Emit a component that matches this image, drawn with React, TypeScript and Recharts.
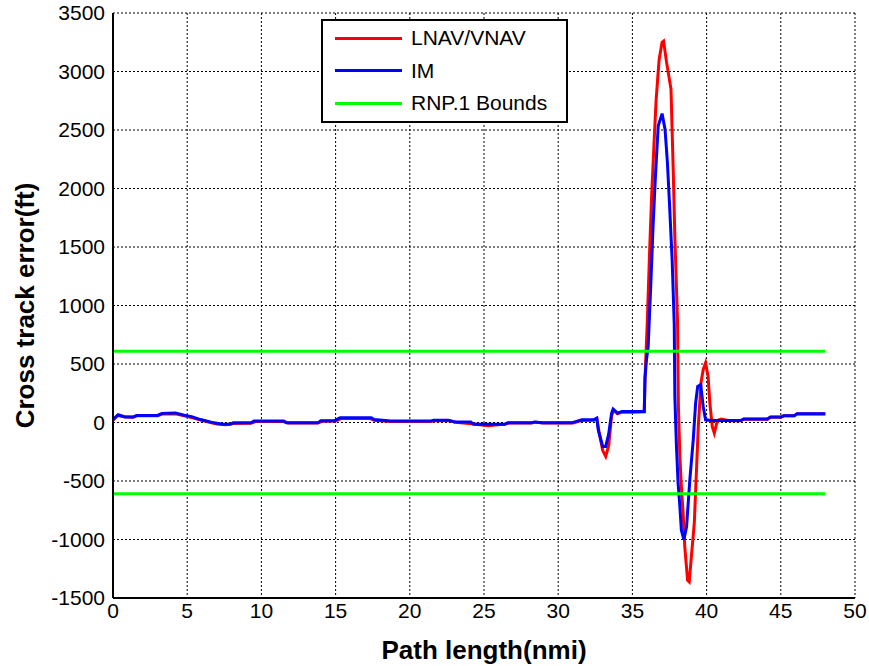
import React from 'react';
import { LineChart, Line, XAxis, YAxis, CartesianGrid, Legend } from 'recharts';

const FONT = '"Liberation Sans", Arial, Helvetica, sans-serif';

const xTicks = [0, 5, 10, 15, 20, 25, 30, 35, 40, 45, 50];
const yTicks = [-1500, -1000, -500, 0, 500, 1000, 1500, 2000, 2500, 3000, 3500];

// RNP 0.1 nmi bounds (ft) and their extent along the path (nmi)
const rnpBound = 608;
const boundExtent = [0, 48];

// [path length (nmi), cross track error (ft)]
const lnavTrace: [number, number][] = [
  [0, 20], [0.3, 60], [0.8, 50], [1.3, 45], [1.6, 58], [3.0, 58], [3.3, 72], [4.2, 75], [4.8, 58],
  [5.3, 42], [5.9, 22], [6.5, 2], [7.0, -12], [7.6, -20], [8.1, -8], [9.3, -6], [9.6, 8], [11.5, 8],
  [11.8, -5], [13.8, -5], [14.1, 10], [15.0, 12], [15.4, 35], [17.3, 35], [17.6, 20], [18.7, 8],
  [21.4, 8], [21.7, 15], [22.7, 15], [23.1, 2], [24.3, -12], [25.3, -28], [26.4, -14], [26.7, -5],
  [28.2, -5], [28.5, 3], [29.0, -5], [31.0, -5], [31.6, 18], [32.4, 20], [32.6, 33], [32.75, -80],
  [33.0, -240], [33.2, -290], [33.4, -200], [33.6, 60], [33.75, 105], [34.0, 75], [34.3, 88],
  [35.0, 88], [35.8, 92], [35.85, 380], [36.0, 850], [36.17, 1500], [36.3, 1950], [36.47, 2420],
  [36.6, 2760], [36.8, 3100], [37.0, 3250], [37.1, 3260], [37.3, 3080], [37.6, 2850], [37.75, 2160],
  [37.86, 1590], [38.04, 870], [38.1, 137], [38.2, -291], [38.3, -549], [38.42, -777], [38.53, -1063],
  [38.72, -1349], [38.83, -1363], [38.99, -1120], [39.17, -863], [39.3, -463], [39.44, -34],
  [39.62, 337], [39.77, 451], [39.93, 509], [40.1, 394], [40.22, 166], [40.38, -34], [40.52, -91],
  [40.68, -6], [40.83, 23], [41.0, 30], [41.5, 15], [42.3, 15], [42.5, 28], [44.1, 28], [44.3, 45],
  [45.0, 45], [45.2, 57], [45.9, 57], [46.1, 72], [48.0, 72],
];

const imTrace: [number, number][] = [
  [0, 25], [0.35, 66], [0.8, 48], [1.4, 48], [1.6, 60], [3.0, 60], [3.3, 78], [4.2, 82], [4.8, 62],
  [5.3, 50], [5.9, 25], [6.8, -3], [7.4, -15], [7.9, -15], [8.1, -3], [9.3, -3], [9.5, 12], [11.5, 12],
  [11.7, -3], [13.8, -3], [14.0, 15], [14.9, 15], [15.3, 40], [17.4, 40], [17.6, 25], [18.7, 12],
  [21.4, 12], [21.6, 20], [22.6, 20], [23.0, 5], [24.1, 5], [24.3, -15], [26.4, -15], [26.6, -3],
  [28.2, -3], [28.4, 5], [28.9, -3], [30.9, -3], [31.6, 23], [32.4, 23], [32.6, 37], [32.7, -63],
  [33.0, -205], [33.2, -205], [33.4, -100], [33.6, 80], [33.7, 115], [34.0, 80], [34.3, 95],
  [35.8, 95], [35.85, 380], [35.95, 540], [36.06, 640], [36.24, 1185], [36.4, 1700], [36.55, 2100],
  [36.74, 2535], [37.0, 2640], [37.2, 2505], [37.36, 2220], [37.5, 1870], [37.68, 1385], [37.82, 840],
  [37.86, 223], [37.97, -206], [38.08, -520], [38.2, -720], [38.3, -920], [38.47, -1000],
  [38.65, -891], [38.87, -491], [39.1, -149], [39.26, 166], [39.4, 309], [39.6, 323], [39.77, 137],
  [39.93, 23], [40.3, 17], [42.3, 17], [42.5, 29], [44.1, 29], [44.3, 46], [45.0, 46], [45.2, 57],
  [45.9, 57], [46.1, 74], [48.0, 74],
];

const legendItems = [
  { label: 'LNAV/VNAV', color: '#ff0000' },
  { label: 'IM', color: '#0000ff' },
  { label: 'RNP.1 Bounds', color: '#00ff00' },
];

const toRows = (t: [number, number][]) => t.map(([x, y]) => ({ x, y }));
const lnavRows = toRows(lnavTrace);
const imRows = toRows(imTrace);
const upperRows = boundExtent.map((x) => ({ x, y: rnpBound }));
const lowerRows = boundExtent.map((x) => ({ x, y: -rnpBound }));

const LegendBox = () => (
  <div
    style={{
      position: 'relative',
      width: 247,
      height: 104,
      boxSizing: 'border-box',
      border: '2px solid #000',
      background: '#fff',
      fontFamily: FONT,
      fontSize: 21,
      color: '#000',
    }}
  >
    {legendItems.map((it, i) => (
      <div
        key={it.label}
        style={{
          position: 'absolute',
          left: 12,
          top: 2 + i * 32.5,
          height: 30,
          display: 'flex',
          alignItems: 'center',
          whiteSpace: 'nowrap',
        }}
      >
        <span style={{ display: 'inline-block', width: 67, height: 3, background: it.color }} />
        <span style={{ marginLeft: 9, lineHeight: '30px' }}>{it.label}</span>
      </div>
    ))}
  </div>
);

const axisLine = { stroke: '#000', strokeWidth: 2 };
const tickText = { fill: '#000', fontSize: 21, fontFamily: FONT };

export default function App() {
  return (
    <div style={{ width: 869, height: 666, background: '#fff' }}>
      <style>{`body{margin:0;background:#fff}`}</style>
      <LineChart width={869} height={666} margin={{ top: 13, right: 14, bottom: 0, left: 0 }}>
        <CartesianGrid xAxisId="b" yAxisId="l" stroke="#000" strokeDasharray="2 2" strokeWidth={1} />
        <XAxis
          xAxisId="b"
          type="number"
          dataKey="x"
          domain={[0, 50]}
          ticks={xTicks}
          interval={0}
          allowDataOverflow
          height={68}
          tickLine={false}
          tickSize={0}
          tickMargin={5}
          axisLine={axisLine}
          tick={tickText}
          label={{
            value: 'Path length(nmi)',
            position: 'insideBottom',
            offset: 7,
            style: { fontWeight: 'bold', fontSize: 26, fill: '#000', fontFamily: FONT },
          }}
        />
        <XAxis
          xAxisId="bm"
          orientation="bottom"
          mirror
          type="number"
          dataKey="x"
          domain={[0, 50]}
          ticks={xTicks}
          interval={0}
          height={0}
          tick={false}
          tickSize={6}
          tickLine={{ stroke: '#000', strokeWidth: 1 }}
          axisLine={false}
        />
        <XAxis
          xAxisId="t"
          orientation="top"
          mirror
          type="number"
          dataKey="x"
          domain={[0, 50]}
          ticks={xTicks}
          interval={0}
          height={0}
          tick={false}
          tickSize={6}
          tickLine={{ stroke: '#000', strokeWidth: 1 }}
          axisLine={axisLine}
        />
        <YAxis
          yAxisId="l"
          type="number"
          domain={[-1500, 3500]}
          ticks={yTicks}
          interval={0}
          allowDataOverflow
          width={113}
          tickLine={false}
          tickSize={0}
          tickMargin={8}
          axisLine={axisLine}
          tick={tickText}
          label={{
            value: 'Cross track error(ft)',
            angle: -90,
            position: 'insideLeft',
            offset: 25,
            style: { textAnchor: 'middle', fontWeight: 'bold', fontSize: 26, fill: '#000', fontFamily: FONT },
          }}
        />
        <YAxis
          yAxisId="lm"
          orientation="left"
          mirror
          type="number"
          domain={[-1500, 3500]}
          ticks={yTicks}
          interval={0}
          width={0}
          tick={false}
          tickSize={6}
          tickLine={{ stroke: '#000', strokeWidth: 1 }}
          axisLine={false}
        />
        <YAxis
          yAxisId="r"
          orientation="right"
          mirror
          type="number"
          domain={[-1500, 3500]}
          ticks={yTicks}
          interval={0}
          width={0}
          tick={false}
          tickSize={6}
          tickLine={{ stroke: '#000', strokeWidth: 1 }}
          axisLine={axisLine}
        />
        <Legend
          layout="vertical"
          align="center"
          verticalAlign="middle"
          content={() => <LegendBox />}
          wrapperStyle={{ position: 'absolute', left: 321, top: 19, width: 247, height: 104 }}
        />
        <Line
          xAxisId="b"
          yAxisId="l"
          data={lnavRows}
          dataKey="y"
          name="LNAV/VNAV"
          type="linear"
          stroke="#ff0000"
          strokeWidth={3}
          dot={false}
          activeDot={false}
          isAnimationActive={false}
        />
        <Line
          xAxisId="b"
          yAxisId="l"
          data={imRows}
          dataKey="y"
          name="IM"
          type="linear"
          stroke="#0000ff"
          strokeWidth={3}
          dot={false}
          activeDot={false}
          isAnimationActive={false}
        />
        <Line
          xAxisId="b"
          yAxisId="l"
          data={upperRows}
          dataKey="y"
          name="RNP.1 Bounds"
          type="linear"
          stroke="#00ff00"
          strokeWidth={3}
          dot={false}
          activeDot={false}
          isAnimationActive={false}
        />
        <Line
          xAxisId="b"
          yAxisId="l"
          data={lowerRows}
          dataKey="y"
          name="RNP.1 Bounds lower"
          type="linear"
          stroke="#00ff00"
          strokeWidth={3}
          dot={false}
          activeDot={false}
          isAnimationActive={false}
        />
      </LineChart>
    </div>
  );
}
